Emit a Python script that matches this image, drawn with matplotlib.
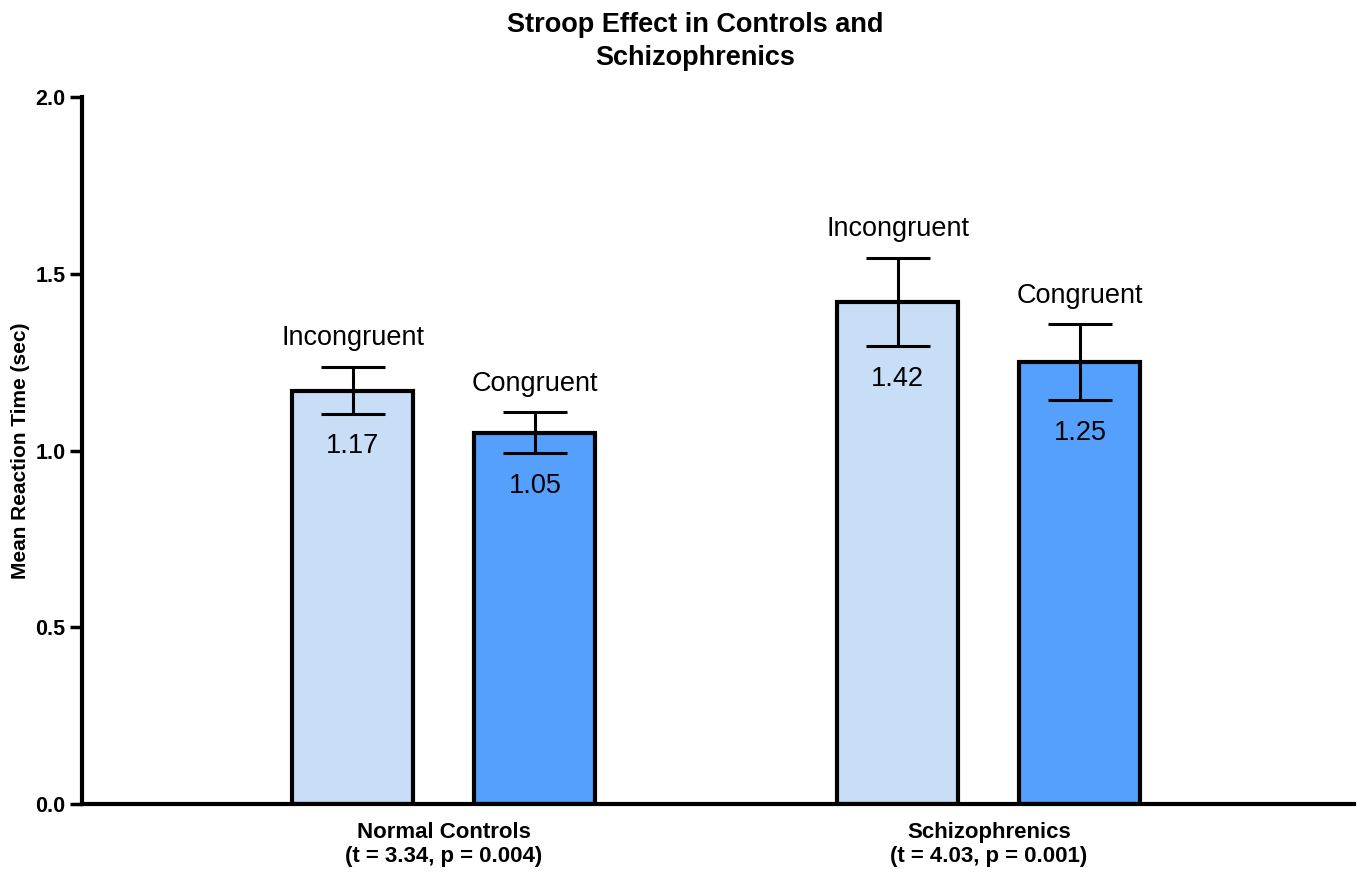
import matplotlib
matplotlib.use("Agg")
import matplotlib.pyplot as plt
import numpy as np

plt.rcParams['font.family'] = ['Liberation Sans', 'DejaVu Sans']

groups = ['Normal Controls\n(t = 3.34, p = 0.004)', 'Schizophrenics\n(t = 4.03, p = 0.001)']
conditions = ['Incongruent', 'Congruent']
incongruent = [1.17, 1.42]
congruent = [1.05, 1.25]
incongruent_err = [0.066, 0.125]
congruent_err = [0.058, 0.107]
colors = ['#C8DDF6', '#55A0FD']

fig = plt.figure(figsize=(13.6, 8.75), dpi=100)
ax = fig.add_axes([0.0603, 0.081, 0.9353, 0.808])

x = np.arange(len(groups))
w = 0.222
off = 0.167
series = [(incongruent, incongruent_err), (congruent, congruent_err)]
for i, (vals, errs) in enumerate(series):
    pos = x + (i * 2 - 1) * off
    ax.bar(pos, vals, w, color=colors[i], edgecolor='black', linewidth=3, zorder=2)
    ax.errorbar(pos, vals, yerr=errs, fmt='none', ecolor='black', elinewidth=2.2,
                capsize=23, capthick=2.2, zorder=3)
    for p, v, e in zip(pos, vals, errs):
        ax.text(p, v + e + 0.045, conditions[i], ha='center', va='bottom', fontsize=19.5)
        ax.text(p, v - e - 0.055, f'{v:.2f}', ha='center', va='top', fontsize=19.5)

ax.set_xlim(-0.664, 1.670)
ax.set_ylim(0, 2.0)
ax.set_yticks([0, 0.5, 1.0, 1.5, 2.0])
ax.set_yticklabels(['0.0', '0.5', '1.0', '1.5', '2.0'], fontsize=15.5, fontweight='heavy')
ax.set_xticks(x)
ax.set_xticklabels(groups, fontsize=16, fontweight='bold', linespacing=1.2)
ax.tick_params(axis='x', length=0, pad=13)
ax.tick_params(axis='y', length=9, width=2.5, pad=3)
for s in ['top', 'right']:
    ax.spines[s].set_visible(False)
for s in ['left', 'bottom']:
    ax.spines[s].set_linewidth(3)
ax.set_ylabel('Mean Reaction Time (sec)', fontsize=15, fontweight='bold', labelpad=4)
fig.suptitle('Stroop Effect in Controls and\nSchizophrenics', fontsize=19.5, fontweight='bold',
             x=0.511, y=0.986, linespacing=1.35)

fig.savefig('out.png', dpi=100)
